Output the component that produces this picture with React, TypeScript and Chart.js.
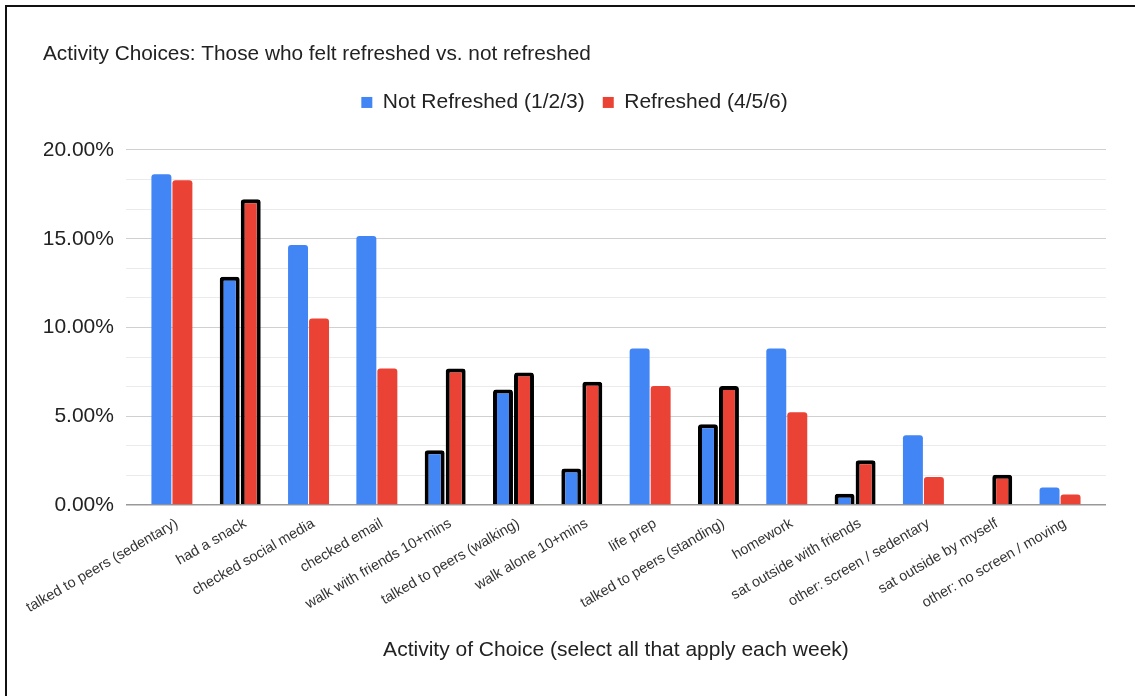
import React, { useEffect, useRef } from "react";
import { Chart, registerables } from "chart.js";

Chart.register(...registerables);

const titleText = "Activity Choices: Those who felt refreshed vs. not refreshed";
const xAxisTitle = "Activity of Choice (select all that apply each week)";

const categories = [
  "talked to peers (sedentary)",
  "had a snack",
  "checked social media",
  "checked email",
  "walk with friends 10+mins",
  "talked to peers (walking)",
  "walk alone 10+mins",
  "life prep",
  "talked to peers (standing)",
  "homework",
  "sat outside with friends",
  "other: screen / sedentary",
  "sat outside by myself",
  "other: no screen / moving",
];

const seriesNames = ["Not Refreshed (1/2/3)", "Refreshed (4/5/6)"];

// percent values
const notRefreshed = [18.63, 12.86, 14.65, 15.16, 3.08, 6.5, 2.05, 8.82, 4.55, 8.82, 0.64, 3.93, 0, 0.98];
const refreshed = [18.3, 17.22, 10.51, 7.69, 7.69, 7.47, 6.94, 6.7, 6.7, 5.23, 2.52, 1.58, 1.71, 0.59];

// categories drawn with a black outline
const outlinedCategories = [
  "had a snack",
  "walk with friends 10+mins",
  "talked to peers (walking)",
  "walk alone 10+mins",
  "talked to peers (standing)",
  "sat outside with friends",
  "sat outside by myself",
];

const yTickLabels = ["0.00%", "5.00%", "10.00%", "15.00%", "20.00%"];

const FONT = "'Liberation Sans', Arial, sans-serif";

function borderWidths(values: number[]) {
  return categories.map((c, i) =>
    outlinedCategories.includes(c) && values[i] > 0 ? 4 : 0
  );
}

function points(values: number[]) {
  return values.map((v, i) => ({ x: i, y: v }));
}

export default function App() {
  const ref = useRef<HTMLCanvasElement | null>(null);

  useEffect(() => {
    if (!ref.current) return;
    const chart = new Chart(ref.current, {
      type: "bar",
      data: {
        labels: categories,
        datasets: [
          {
            label: seriesNames[0],
            data: points(notRefreshed),
            backgroundColor: "#4285F4",
            borderColor: "#000000",
            borderWidth: borderWidths(notRefreshed),
            borderRadius: 3,
            borderSkipped: "start",
            categoryPercentage: 0.615,
            barPercentage: 0.95,
          },
          {
            label: seriesNames[1],
            data: points(refreshed),
            backgroundColor: "#EA4335",
            borderColor: "#000000",
            borderWidth: borderWidths(refreshed),
            borderRadius: 3,
            borderSkipped: "start",
            categoryPercentage: 0.615,
            barPercentage: 0.95,
          },
        ],
      } as any,
      options: {
        responsive: false,
        animation: false,
        layout: { padding: { left: 36, right: 29, top: 0, bottom: 0 } },
        plugins: {
          title: {
            display: true,
            text: titleText,
            align: "start",
            color: "#222222",
            font: { family: FONT, size: 20.8, weight: "normal" },
            padding: { top: 35, bottom: 7 },
          },
          legend: {
            display: true,
            position: "top",
            align: "center",
            labels: {
              boxWidth: 11,
              boxHeight: 11,
              padding: 18,
              color: "#222222",
              font: { family: FONT, size: 21 },
            },
          },
          tooltip: { enabled: false },
        },
        scales: {
          x: {
            type: "linear",
            min: -0.6725,
            max: categories.length - 1 + 0.6725,
            offset: false,
            grid: { display: false, drawTicks: false, offset: false },
            border: { display: false },
            afterBuildTicks: (scale: any) => {
              scale.ticks = categories.map((_, i) => ({ value: i }));
            },
            ticks: {
              autoSkip: false,
              maxRotation: 30,
              minRotation: 30,
              padding: 10,
              labelOffset: 5,
              color: "#333333",
              font: { family: FONT, size: 14.5 },
              callback: (value: any) => categories[Math.round(Number(value))] ?? "",
            },
            title: {
              display: true,
              text: xAxisTitle,
              color: "#222222",
              font: { family: FONT, size: 21 },
              padding: { top: 0, bottom: 33 },
            },
            afterFit: (scale: any) => {
              scale.height = 191;
            },
          },
          y: {
            min: 0,
            max: 20,
            border: { display: false },
            grid: {
              drawTicks: false,
              color: (ctx: any) => {
                const v = ctx.tick ? ctx.tick.value : 0;
                if (Math.abs(v) < 1e-6) return "#999999";
                const r = v / 5;
                return Math.abs(r - Math.round(r)) < 1e-6 ? "#d0d0d0" : "#ebebeb";
              },
              lineWidth: (ctx: any) => {
                const v = ctx.tick ? ctx.tick.value : 0;
                return Math.abs(v) < 1e-6 ? 1.5 : 1;
              },
            },
            ticks: {
              stepSize: 20 / 12,
              padding: 12,
              color: "#222222",
              font: { family: FONT, size: 21 },
              callback: (value: any) => {
                const v = Number(value);
                const r = v / 5;
                if (Math.abs(r - Math.round(r)) < 1e-6) {
                  return yTickLabels[Math.round(r)];
                }
                return "";
              },
            },
            afterFit: (scale: any) => {
              scale.width = 82;
            },
          },
        },
      } as any,
    });
    const lg: any = (chart as any).legend;
    if (lg) {
      const origFit = lg.fit;
      lg.fit = function () {
        origFit.call(this);
        this.height = 76;
      };
      chart.update();
    }
    return () => chart.destroy();
  }, []);

  return (
    <div style={{ position: "absolute", left: 0, top: 0, width: 1135, height: 696, background: "#fff", overflow: "hidden" }}>
      <div
        style={{
          position: "absolute",
          left: 5,
          top: 5,
          width: 1135,
          height: 696,
          borderLeft: "2px solid #111",
          borderTop: "2px solid #111",
        }}
      />
      <canvas
        ref={ref}
        width={1128}
        height={689}
        style={{ position: "absolute", left: 7, top: 7, width: 1128, height: 689 }}
      />
    </div>
  );
}
